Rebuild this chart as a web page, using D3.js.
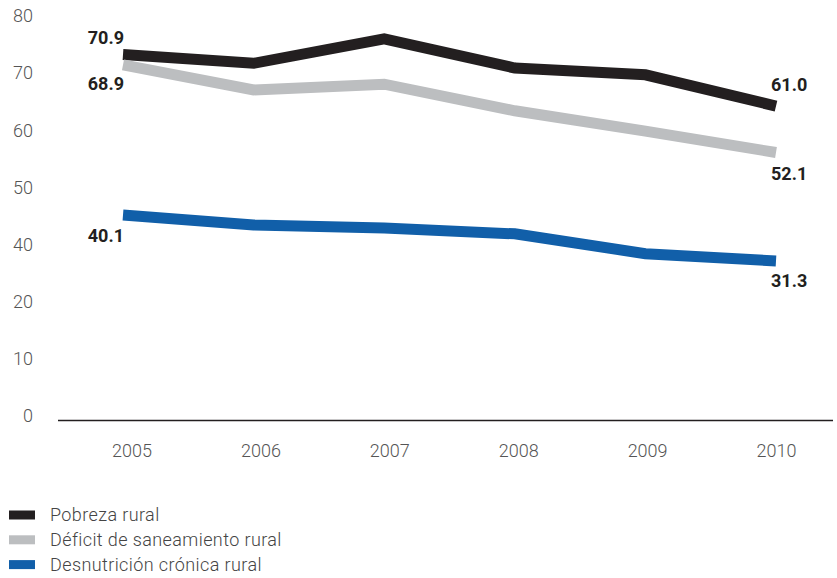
<!DOCTYPE html>
<html>
<head>
<meta charset="utf-8">
<script src="https://cdn.jsdelivr.net/npm/d3@7"></script>
<style>
  html, body { margin: 0; padding: 0; background: #fff; }
  svg { display: block; font-family: Roboto, "Noto Sans", sans-serif; }
</style>
</head>
<body>
<svg id="chart" width="837" height="578"></svg>
<script>
// ---- data ----
const years = [2005, 2006, 2007, 2008, 2009, 2010];
const pobrezaRural = [70.9, 69.2, 73.9, 68.3, 67.0, 61.0];
const deficitSaneamientoRural = [68.9, 64.1, 65.2, 60.1, 56.2, 52.1];
const desnutricionCronicaRural = [40.1, 38.2, 37.6, 36.5, 32.7, 31.3];
const seriesNames = ["Pobreza rural", "Déficit de saneamiento rural", "Desnutrición crónica rural"];
const yTickLabels = ["0", "10", "20", "40", "50", "60", "70", "80"];
const yDomain = [0, 80];

// ---- styles ----
const colors = ["#231f20", "#bcbec0", "#115fa9"];
const labelPlacement = [
  { first: -17, last: -21 },
  { first: 19, last: 21 },
  { first: 21, last: 20 }
];

const svg = d3.select("#chart");
const seriesValues = [pobrezaRural, deficitSaneamientoRural, desnutricionCronicaRural];

const x = d3.scalePoint().domain(years).range([123, 776]);
const xLabels = d3.scalePoint().domain(years).range([131.5, 776]);
const y = d3.scaleLinear().domain(yDomain).range([424.2, 7]);
const yLabels = d3.scalePoint().domain(yTickLabels).range([416, 16]);

// y axis labels
const yAxis = svg.append("g")
  .attr("transform", "translate(33,0)")
  .call(d3.axisLeft(yLabels).tickSize(0).tickPadding(0));
yAxis.select(".domain").remove();
yAxis.selectAll("text")
  .attr("font-size", 18).attr("font-weight", 300)
  .attr("fill", "#555").attr("font-family", "Roboto, sans-serif");

// x axis baseline
svg.append("line")
  .attr("x1", 58).attr("x2", 833)
  .attr("y1", 420.5).attr("y2", 420.5)
  .attr("stroke", "#231f20").attr("stroke-width", 1.6);

const xAxis = svg.append("g")
  .attr("transform", "translate(0,444)")
  .call(d3.axisBottom(xLabels).tickSize(0).tickPadding(0).tickFormat(d3.format("d")));
xAxis.select(".domain").remove();
xAxis.selectAll("text")
  .attr("font-size", 18).attr("font-weight", 300)
  .attr("fill", "#555").attr("font-family", "Roboto, sans-serif");

// lines
const line = d3.line()
  .x((d, i) => x(years[i]))
  .y(d => y(d));

seriesValues.forEach((vals, s) => {
  svg.append("path")
    .datum(vals)
    .attr("d", line)
    .attr("fill", "none")
    .attr("stroke", colors[s])
    .attr("stroke-width", 11)
    .attr("stroke-linejoin", "miter")
    .attr("stroke-linecap", "butt");
});

// value labels (first and last)
seriesValues.forEach((vals, s) => {
  const n = vals.length - 1;
  svg.append("text")
    .attr("x", x(years[0]) + 1)
    .attr("y", y(vals[0]) + labelPlacement[s].first)
    .attr("dy", "0.35em")
    .attr("text-anchor", "end")
    .attr("font-size", 18).attr("font-weight", 700)
    .attr("fill", "#231f20")
    .text(vals[0].toFixed(1));
  svg.append("text")
    .attr("x", x(years[n]) - 5)
    .attr("y", y(vals[n]) + labelPlacement[s].last)
    .attr("dy", "0.35em")
    .attr("text-anchor", "start")
    .attr("font-size", 18).attr("font-weight", 700)
    .attr("fill", "#231f20")
    .text(vals[n].toFixed(1));
});

// legend
const legend = svg.append("g");
seriesNames.forEach((name, i) => {
  const cy = 515 + i * 24.8;
  legend.append("rect")
    .attr("x", 9).attr("y", cy - 4.5)
    .attr("width", 26).attr("height", 9)
    .attr("fill", colors[i]);
  legend.append("text")
    .attr("x", 50).attr("y", cy)
    .attr("dy", "0.35em")
    .attr("font-size", 18).attr("font-weight", 300)
    .attr("letter-spacing", 0.4)
    .attr("fill", "#444")
    .text(name);
});
</script>
</body>
</html>
